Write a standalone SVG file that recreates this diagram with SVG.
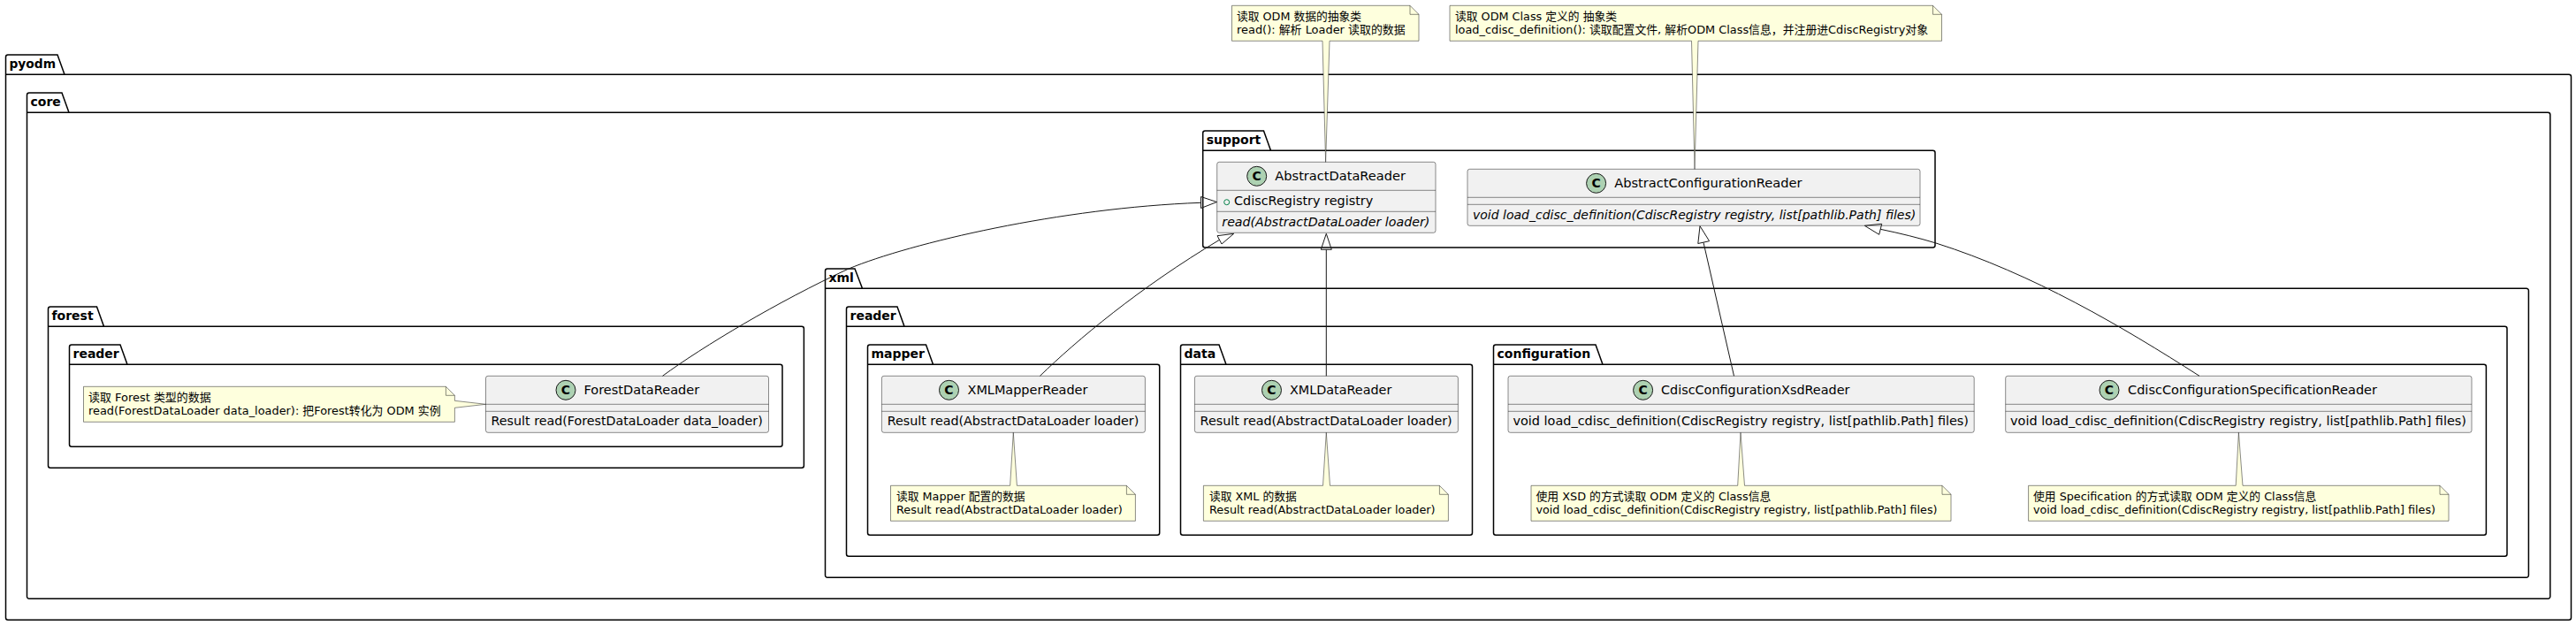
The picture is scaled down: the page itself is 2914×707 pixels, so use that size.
<svg xmlns="http://www.w3.org/2000/svg" width="2914" height="707" viewBox="0 0 2914 707">
<style>
text{font-family:"DejaVu Sans","Noto Sans CJK SC",sans-serif;fill:#000}
.pk{fill:none;stroke:#000;stroke-width:1.5}
.pn{font-size:14px;font-weight:700}
.cb{fill:#F1F1F1;stroke:#181818;stroke-width:.5}
.sp{fill:none;stroke:#181818;stroke-width:.5}
.ci{fill:#ADD1B2;stroke:#181818;stroke-width:1}
.cc{font-size:14px;font-weight:700;text-anchor:middle}
.nm{font-size:14px}
.mb{font-size:14px}
.it{font-size:14px;font-style:italic}
.nt{fill:#FEFFDD;stroke:#181818;stroke-width:.5}
.nx{font-size:13px}
.cn{fill:none;stroke:#181818;stroke-width:1}
.ah{fill:none;stroke:#181818;stroke-width:1}
</style>
<g id="packages">
<g id="pkg-pyodm"><path class="pk" d="M6.5,84.3V64.5a2.5,2.5 0 0 1 2.5,-2.5H65L73,84.3H2906a2.5,2.5 0 0 1 2.5,2.5V698.8a2.5,2.5 0 0 1 -2.5,2.5H9a2.5,2.5 0 0 1 -2.5,-2.5V84.3H73"/><text class="pn" x="10.5" y="77.3" textLength="52.5" lengthAdjust="spacingAndGlyphs">pyodm</text></g>
<g id="pkg-core"><path class="pk" d="M30.5,127.3V107.5a2.5,2.5 0 0 1 2.5,-2.5H70L78,127.3H2882.3a2.5,2.5 0 0 1 2.5,2.5V674.8a2.5,2.5 0 0 1 -2.5,2.5H33a2.5,2.5 0 0 1 -2.5,-2.5V127.3H78"/><text class="pn" x="34.5" y="120.3">core</text></g>
<g id="pkg-support"><path class="pk" d="M1360.7,170.3V150.5a2.5,2.5 0 0 1 2.5,-2.5H1429.5L1437.5,170.3H2186.5a2.5,2.5 0 0 1 2.5,2.5V277.5a2.5,2.5 0 0 1 -2.5,2.5H1363.2a2.5,2.5 0 0 1 -2.5,-2.5V170.3H1437.5"/><text class="pn" x="1364.7" y="163.3">support</text></g>
<g id="pkg-forest"><path class="pk" d="M54.5,369.3V349.5a2.5,2.5 0 0 1 2.5,-2.5H109.5L117.5,369.3H906.9a2.5,2.5 0 0 1 2.5,2.5V526.8a2.5,2.5 0 0 1 -2.5,2.5H57a2.5,2.5 0 0 1 -2.5,-2.5V369.3H117.5"/><text class="pn" x="58.5" y="362.3">forest</text></g>
<g id="pkg-forest-reader"><path class="pk" d="M78.5,412.3V392.5a2.5,2.5 0 0 1 2.5,-2.5H136L144,412.3H882.5a2.5,2.5 0 0 1 2.5,2.5V502.8a2.5,2.5 0 0 1 -2.5,2.5H81a2.5,2.5 0 0 1 -2.5,-2.5V412.3H144"/><text class="pn" x="82.5" y="405.3">reader</text></g>
<g id="pkg-xml"><path class="pk" d="M933.5,326.3V306.5a2.5,2.5 0 0 1 2.5,-2.5H967L975.5,326.3H2857.9a2.5,2.5 0 0 1 2.5,2.5V650.8a2.5,2.5 0 0 1 -2.5,2.5H936a2.5,2.5 0 0 1 -2.5,-2.5V326.3H975.5"/><text class="pn" x="937.5" y="319.3">xml</text></g>
<g id="pkg-xml-reader"><path class="pk" d="M957.5,369.3V349.5a2.5,2.5 0 0 1 2.5,-2.5H1015L1023,369.3H2833.5a2.5,2.5 0 0 1 2.5,2.5V626.8a2.5,2.5 0 0 1 -2.5,2.5H960a2.5,2.5 0 0 1 -2.5,-2.5V369.3H1023"/><text class="pn" x="961.5" y="362.3">reader</text></g>
<g id="pkg-mapper"><path class="pk" d="M981.5,412.3V392.5a2.5,2.5 0 0 1 2.5,-2.5H1047.5L1055.5,412.3H1309.2a2.5,2.5 0 0 1 2.5,2.5V602.8a2.5,2.5 0 0 1 -2.5,2.5H984a2.5,2.5 0 0 1 -2.5,-2.5V412.3H1055.5"/><text class="pn" x="985.5" y="405.3">mapper</text></g>
<g id="pkg-data"><path class="pk" d="M1335.5,412.3V392.5a2.5,2.5 0 0 1 2.5,-2.5H1379L1387,412.3H1663a2.5,2.5 0 0 1 2.5,2.5V602.8a2.5,2.5 0 0 1 -2.5,2.5H1338a2.5,2.5 0 0 1 -2.5,-2.5V412.3H1387"/><text class="pn" x="1339.5" y="405.3">data</text></g>
<g id="pkg-configuration"><path class="pk" d="M1689.5,412.3V392.5a2.5,2.5 0 0 1 2.5,-2.5H1805L1813,412.3H2809.9a2.5,2.5 0 0 1 2.5,2.5V602.8a2.5,2.5 0 0 1 -2.5,2.5H1692a2.5,2.5 0 0 1 -2.5,-2.5V412.3H1813"/><text class="pn" x="1693.5" y="405.3">configuration</text></g>
</g>
<g id="n-AbstractDataReader"><rect class="cb" x="1376.7" y="183.3" width="247.3" height="80" rx="2.5"/><path class="sp" d="M1376.7,215.3H1624M1376.7,239.3H1624"/><circle class="ci" cx="1421.7" cy="199.3" r="11"/><text class="cc" x="1421.7" y="204.3">C</text><text class="nm" x="1442.3" y="204" textLength="147.7" lengthAdjust="spacingAndGlyphs">AbstractDataReader</text><circle cx="1387.7" cy="228.7" r="3" fill="none" stroke="#038048"/><text class="mb" x="1396" y="232.3" textLength="157.3" lengthAdjust="spacingAndGlyphs">CdiscRegistry registry</text><text class="it" x="1382.3" y="256" textLength="235" lengthAdjust="spacingAndGlyphs">read(AbstractDataLoader loader)</text></g>
<g id="n-AbstractConfigurationReader"><rect class="cb" x="1660" y="191.3" width="512" height="64" rx="2.5"/><path class="sp" d="M1660,223.3H2172M1660,231.3H2172"/><circle class="ci" cx="1805.6" cy="207.3" r="11"/><text class="cc" x="1805.6" y="212.3">C</text><text class="nm" x="1826.2" y="212" textLength="212.4" lengthAdjust="spacingAndGlyphs">AbstractConfigurationReader</text><text class="it" x="1666" y="248" textLength="501.2" lengthAdjust="spacingAndGlyphs">void load_cdisc_definition(CdiscRegistry registry, list[pathlib.Path] files)</text></g>
<g id="n-ForestDataReader"><rect class="cb" x="549.5" y="425.3" width="320" height="64" rx="2.5"/><path class="sp" d="M549.5,457.3H869.5M549.5,465.3H869.5"/><circle class="ci" cx="640" cy="441.3" r="11"/><text class="cc" x="640" y="446.3">C</text><text class="nm" x="660.4" y="446" textLength="130.9" lengthAdjust="spacingAndGlyphs">ForestDataReader</text><text class="mb" x="555.6" y="481.3" textLength="307.2" lengthAdjust="spacingAndGlyphs">Result read(ForestDataLoader data_loader)</text></g>
<g id="n-XMLMapperReader"><rect class="cb" x="997.4" y="425.3" width="298" height="64" rx="2.5"/><path class="sp" d="M997.4,457.3H1295.4M997.4,465.3H1295.4"/><circle class="ci" cx="1073.5" cy="441.3" r="11"/><text class="cc" x="1073.5" y="446.3">C</text><text class="nm" x="1094.5" y="446" textLength="135.9" lengthAdjust="spacingAndGlyphs">XMLMapperReader</text><text class="mb" x="1003.7" y="481.3" textLength="284.6" lengthAdjust="spacingAndGlyphs">Result read(AbstractDataLoader loader)</text></g>
<g id="n-XMLDataReader"><rect class="cb" x="1351.4" y="425.3" width="298" height="64" rx="2.5"/><path class="sp" d="M1351.4,457.3H1649.4M1351.4,465.3H1649.4"/><circle class="ci" cx="1438.5" cy="441.3" r="11"/><text class="cc" x="1438.5" y="446.3">C</text><text class="nm" x="1459" y="446" textLength="115.3" lengthAdjust="spacingAndGlyphs">XMLDataReader</text><text class="mb" x="1357.6" y="481.3" textLength="285.1" lengthAdjust="spacingAndGlyphs">Result read(AbstractDataLoader loader)</text></g>
<g id="n-CdiscConfigurationXsdReader"><rect class="cb" x="1706" y="425.3" width="527.2" height="64" rx="2.5"/><path class="sp" d="M1706,457.3H2233.2M1706,465.3H2233.2"/><circle class="ci" cx="1858.6" cy="441.3" r="11"/><text class="cc" x="1858.6" y="446.3">C</text><text class="nm" x="1879" y="446" textLength="213.4" lengthAdjust="spacingAndGlyphs">CdiscConfigurationXsdReader</text><text class="mb" x="1711.5" y="481.3" textLength="515.5" lengthAdjust="spacingAndGlyphs">void load_cdisc_definition(CdiscRegistry registry, list[pathlib.Path] files)</text></g>
<g id="n-CdiscConfigurationSpecificationReader"><rect class="cb" x="2268.7" y="425.3" width="527.3" height="64" rx="2.5"/><path class="sp" d="M2268.7,457.3H2796M2268.7,465.3H2796"/><circle class="ci" cx="2386" cy="441.3" r="11"/><text class="cc" x="2386" y="446.3">C</text><text class="nm" x="2407" y="446" textLength="282" lengthAdjust="spacingAndGlyphs">CdiscConfigurationSpecificationReader</text><text class="mb" x="2274" y="481.3" textLength="516" lengthAdjust="spacingAndGlyphs">void load_cdisc_definition(CdiscRegistry registry, list[pathlib.Path] files)</text></g>
<g id="note-abstract-data"><path class="nt" d="M1393.5,6.3H1595L1605,16.3V46.3H1504L1499.6,183.3L1496,46.3H1393.5Z"/><path class="sp" d="M1595,6.3V16.3H1605"/><text class="nx" x="1399" y="23" textLength="141" lengthAdjust="spacingAndGlyphs">读取 ODM 数据的抽象类</text><text class="nx" x="1399" y="37.7" textLength="190.7" lengthAdjust="spacingAndGlyphs">read(): 解析 Loader 读取的数据</text></g>
<g id="note-abstract-config"><path class="nt" d="M1640,6.3H2186.5L2196.5,16.3V46.3H1921L1917,191.3L1913.5,46.3H1640Z"/><path class="sp" d="M2186.5,6.3V16.3H2196.5"/><text class="nx" x="1646" y="23" textLength="183" lengthAdjust="spacingAndGlyphs">读取 ODM Class 定义的 抽象类</text><text class="nx" x="1646" y="37.7" textLength="535" lengthAdjust="spacingAndGlyphs">load_cdisc_definition(): 读取配置文件, 解析ODM Class信息，并注册进CdiscRegistry对象</text></g>
<g id="note-forest"><path class="nt" d="M94.5,437.3H504.4L514.4,447.3V453.3L549.5,457.3L514.4,461.3V477.3H94.5Z"/><path class="sp" d="M504.4,437.3V447.3H514.4"/><text class="nx" x="100" y="454" textLength="138.7" lengthAdjust="spacingAndGlyphs">读取 Forest 类型的数据</text><text class="nx" x="100" y="469" textLength="398.6" lengthAdjust="spacingAndGlyphs">read(ForestDataLoader data_loader): 把Forest转化为 ODM 实例</text></g>
<g id="note-mapper"><path class="nt" d="M1007.5,549.3H1142.6L1146.3,489.3L1150.4,549.3H1274.4L1284.4,559.3V589.3H1007.5Z"/><path class="sp" d="M1274.4,549.3V559.3H1284.4"/><text class="nx" x="1014" y="566" textLength="145.6" lengthAdjust="spacingAndGlyphs">读取 Mapper 配置的数据</text><text class="nx" x="1014" y="581" textLength="255.7" lengthAdjust="spacingAndGlyphs">Result read(AbstractDataLoader loader)</text></g>
<g id="note-data"><path class="nt" d="M1361.4,549.3H1496.5L1500.3,489.3L1504.5,549.3H1628.4L1638.4,559.3V589.3H1361.4Z"/><path class="sp" d="M1628.4,549.3V559.3H1638.4"/><text class="nx" x="1368" y="566" textLength="98.8" lengthAdjust="spacingAndGlyphs">读取 XML 的数据</text><text class="nx" x="1368" y="581" textLength="255.6" lengthAdjust="spacingAndGlyphs">Result read(AbstractDataLoader loader)</text></g>
<g id="note-xsd"><path class="nt" d="M1732,549.3H1965.7L1969,489.3L1973.5,549.3H2197L2207,559.3V589.3H1732Z"/><path class="sp" d="M2197,549.3V559.3H2207"/><text class="nx" x="1737.5" y="566" textLength="265.9" lengthAdjust="spacingAndGlyphs">使用 XSD 的方式读取 ODM 定义的 Class信息</text><text class="nx" x="1737.5" y="581" textLength="454" lengthAdjust="spacingAndGlyphs">void load_cdisc_definition(CdiscRegistry registry, list[pathlib.Path] files)</text></g>
<g id="note-spec"><path class="nt" d="M2294.6,549.3H2529.2L2532.4,489.3L2537,549.3H2760L2770,559.3V589.3H2294.6Z"/><path class="sp" d="M2760,549.3V559.3H2770"/><text class="nx" x="2300" y="566" textLength="320.4" lengthAdjust="spacingAndGlyphs">使用 Specification 的方式读取 ODM 定义的 Class信息</text><text class="nx" x="2300" y="581" textLength="455" lengthAdjust="spacingAndGlyphs">void load_cdisc_definition(CdiscRegistry registry, list[pathlib.Path] files)</text></g>
<g id="connectors">
<path class="cn" d="M749.5,425.3C795,392 880,341 960,304C1030,275 1200,235 1358.5,229.3"/><path class="ah" d="M1376.5,228.5L1358.5,222.5V235.5Z"/>
<path class="cn" d="M1176.4,425.3C1218,385 1288,326 1379.5,271.3"/><path class="ah" d="M1395.7,264.3L1377,266.7L1382,276Z"/>
<path class="cn" d="M1500.3,425.3V282.3"/><path class="ah" d="M1500.3,264.3L1494.3,282.3H1506.3Z"/>
<path class="cn" d="M1961.5,425.3L1927,274.3"/><path class="ah" d="M1923,255.7L1920.8,275.5L1933.6,272.7Z"/>
<path class="cn" d="M2488,425.3C2400,369 2300,310 2190,275C2170,269 2150,264 2127.2,259.3"/><path class="ah" d="M2109.3,255.3L2125.7,265.3L2128.7,253.3Z"/>
</g>
</svg>
